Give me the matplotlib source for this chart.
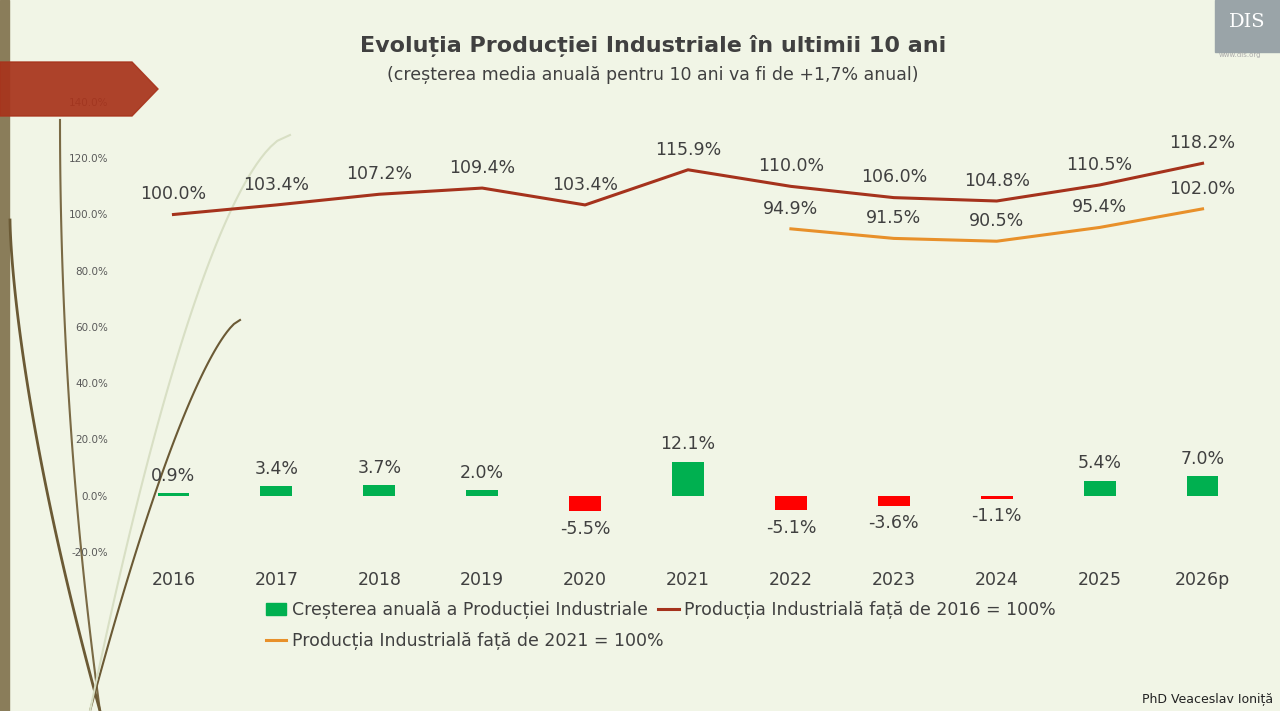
import matplotlib.pyplot as plt
import numpy as np
from matplotlib.patches import Polygon, Rectangle
from matplotlib.lines import Line2D

years = ['2016', '2017', '2018', '2019', '2020', '2021', '2022', '2023', '2024', '2025', '2026p']
growth = [0.9, 3.4, 3.7, 2.0, -5.5, 12.1, -5.1, -3.6, -1.1, 5.4, 7.0]
idx2016 = [100.0, 103.4, 107.2, 109.4, 103.4, 115.9, 110.0, 106.0, 104.8, 110.5, 118.2]
idx2021 = [None, None, None, None, None, None, 94.9, 91.5, 90.5, 95.4, 102.0]
yticks = [-20, 0, 20, 40, 60, 80, 100, 120, 140]

txt = '#404040'
fig = plt.figure(figsize=(12.8, 7.11), dpi=100)
fig.patch.set_facecolor('#f1f5e6')

# decorative background
bg = fig.add_axes([0, 0, 1, 1], zorder=-1)
bg.set_xlim(0, 1280); bg.set_ylim(711, 0); bg.axis('off')
bg.add_patch(Rectangle((0, 0), 9, 711, color='#8a7d5a'))
t = np.linspace(0, 1, 100)
bg.plot(60 + 40 * t ** 2, 120 + 591 * t, color='#7a6a45', lw=1.5)
bg.plot(10 + 90 * t ** 1.5, 220 + 491 * t, color='#6b5a35', lw=2)
bg.plot(240 - 150 * t ** 0.7, 320 + 391 * t, color='#6b5a35', lw=1.5)
bg.plot(290 - 200 * t ** 0.6, 135 + 576 * t, color='#d8dfc4', lw=1.5)
bg.add_patch(Rectangle((1215, 0), 65, 52, color='#9aa4a8'))
bg.text(1247, 22, 'DIS', color='white', ha='center', va='center', fontsize=14, family='serif')
bg.text(1240, 57, 'www.dis.org', color='#aaaaaa', ha='center', fontsize=5)

ax = fig.add_axes([122 / 1280, 1 - 552 / 711, (1254 - 122) / 1280, 450 / 711])
ax.set_facecolor('none')
x = np.arange(len(years))
colors = ['#00b050' if g >= 0 else '#ff0000' for g in growth]
ax.bar(x, growth, width=0.31, color=colors)
ax.plot(x, idx2016, color='#a5321c', lw=2.2)
x2 = [i for i, v in enumerate(idx2021) if v is not None]
v2 = [v for v in idx2021 if v is not None]
ax.plot(x2, v2, color='#e8902a', lw=2.2)

fs = 12.5
for i, g in enumerate(growth):
    if g >= 0:
        ax.text(i, g + 3, f'{g:.1f}%', ha='center', va='bottom', fontsize=fs, color=txt)
    else:
        ax.text(i, g - 3, f'{g:.1f}%', ha='center', va='top', fontsize=fs, color=txt)
for i, v in enumerate(idx2016):
    ax.text(i, v + 4, f'{v:.1f}%', ha='center', va='bottom', fontsize=fs, color=txt)
for i, v in zip(x2, v2):
    ax.text(i, v + 4, f'{v:.1f}%', ha='center', va='bottom', fontsize=fs, color=txt)

ax.set_xlim(-0.5, len(years) - 0.5)
ax.set_ylim(-20, 140)
ax.set_yticks(yticks)
ax.set_yticklabels([f'{v:.1f}%' for v in yticks], fontsize=7.5, color='#595959')
ax.set_xticks(x)
ax.set_xticklabels(years, fontsize=12.5, color=txt)
ax.tick_params(length=0, axis='both')
ax.tick_params(axis='y', pad=10)
ax.tick_params(axis='x', pad=14)
for s in ax.spines.values():
    s.set_visible(False)

# red banner drawn over the top tick label
fg = fig.add_axes([0, 0, 1, 1], zorder=5)
fg.set_xlim(0, 1280); fg.set_ylim(711, 0); fg.axis('off')
fg.add_patch(Polygon([(0, 62), (132, 62), (158, 89), (132, 116), (0, 116)], color='#a8341c', alpha=0.93))

fig.text(0.51, 1 - 46 / 711, 'Evoluția Producției Industriale în ultimii 10 ani', ha='center', va='center',
         fontsize=16, fontweight='bold', color=txt)
fig.text(0.51, 1 - 75 / 711, '(creșterea media anuală pentru 10 ani va fi de +1,7% anual)', ha='center',
         va='center', fontsize=12.5, color=txt)

handles = [Rectangle((0, 0), 1, 1, color='#00b050'),
           Line2D([], [], color='#a5321c', lw=2.2),
           Line2D([], [], color='#e8902a', lw=2.2)]
labels = ['Creșterea anuală a Producției Industriale', 'Producția Industrială față de 2016 = 100%',
          'Producția Industrială față de 2021 = 100%']
fig.legend(handles[:2], labels[:2], ncol=2, loc='center left', bbox_to_anchor=(250 / 1280, 1 - 610 / 711),
           frameon=False, fontsize=12.5, labelcolor=txt, handlelength=1.2, handletextpad=0.3, columnspacing=0.6)
fig.legend(handles[2:], labels[2:], loc='center left', bbox_to_anchor=(250 / 1280, 1 - 641 / 711),
           frameon=False, fontsize=12.5, labelcolor=txt, handlelength=1.2, handletextpad=0.3)
fig.text(0.995, 1 - 700 / 711, 'PhD Veaceslav Ioniță', ha='right', va='center', fontsize=9, color='#222222')

fig.savefig('out.png', dpi=100, facecolor=fig.get_facecolor())
